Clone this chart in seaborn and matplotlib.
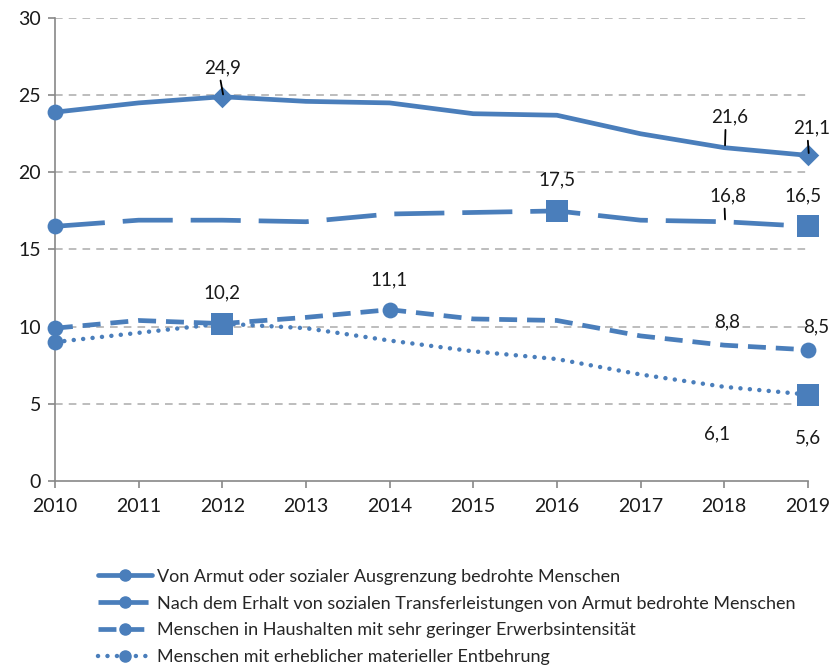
import numpy as np
import pandas as pd
import matplotlib
matplotlib.use('Agg')
import matplotlib.pyplot as plt
import seaborn as sns
from matplotlib.lines import Line2D

years = [2010, 2011, 2012, 2013, 2014, 2015, 2016, 2017, 2018, 2019]
armut_ausgrenzung = [23.9, 24.5, 24.9, 24.6, 24.5, 23.8, 23.7, 22.5, 21.6, 21.1]
nach_transfer = [16.5, 16.9, 16.9, 16.8, 17.3, 17.4, 17.5, 16.9, 16.8, 16.5]
erwerbsintensitaet = [9.9, 10.4, 10.2, 10.6, 11.1, 10.5, 10.4, 9.4, 8.8, 8.5]
entbehrung = [9.0, 9.6, 10.2, 9.9, 9.1, 8.4, 7.9, 6.9, 6.1, 5.6]

labels = [
    'Von Armut oder sozialer Ausgrenzung bedrohte Menschen',
    'Nach dem Erhalt von sozialen Transferleistungen von Armut bedrohte Menschen',
    'Menschen in Haushalten mit sehr geringer Erwerbsintensität',
    'Menschen mit erheblicher materieller Entbehrung',
]

blue = '#4a7ebb'
sns.set_style('white')
plt.rcParams['font.family'] = ['Lato', 'DejaVu Sans']

df = pd.DataFrame({'Jahr': years, 's1': armut_ausgrenzung, 's2': nach_transfer,
                   's3': erwerbsintensitaet, 's4': entbehrung})

fig = plt.figure(figsize=(8.32, 6.68), dpi=100)
ax = fig.add_axes([0.066, 0.280, 0.905, 0.693])

LW = 3.4
styles = {
    's1': dict(linestyle='-', lw=LW),
    's2': dict(linestyle=(0, (10.6, 3.8)), lw=LW),
    's3': dict(linestyle=(0, (3.8, 2.1)), lw=LW),
    's4': dict(linestyle=(0, (0.01, 2.1)), lw=LW * 0.95, solid_capstyle='round',
               dash_capstyle='round'),
}
for col, st in styles.items():
    sns.lineplot(data=df, x='Jahr', y=col, ax=ax, color=blue, **st)

# markers
def mark(col, idx, marker, size):
    sub = df.iloc[idx]
    sns.scatterplot(x=sub['Jahr'], y=sub[col], ax=ax, color=blue, marker=marker,
                    s=size, edgecolor=blue, linewidth=0, zorder=5, clip_on=False)

for col in ['s1', 's2', 's3', 's4']:
    mark(col, [0], 'o', 130)
mark('s1', [2, 9], 'D', 120)
mark('s2', [6, 9], 's', 250)
mark('s3', [4, 9], 'o', 130)
mark('s4', [2, 9], 's', 250)

# data labels: (series, index, label y, label x offset, leader)
fs = 13.5
label_spec = [
    ('s1', 2, 26.8, 0.0, True),
    ('s1', 8, 23.6, 0.07, True),
    ('s1', 9, 22.9, 0.04, True),
    ('s2', 6, 19.5, 0.0, False),
    ('s2', 8, 18.5, 0.05, True),
    ('s2', 9, 18.5, -0.06, False),
    ('s3', 2, 12.2, 0.0, False),
    ('s3', 4, 13.0, 0.0, False),
    ('s3', 8, 10.3, 0.03, False),
    ('s3', 9, 10.0, 0.1, False),
    ('s4', 8, 3.05, -0.08, False),
    ('s4', 9, 2.8, 0.0, False),
]
for col, i, ly, dx, leader in label_spec:
    v = df[col].iloc[i]
    x = years[i]
    txt = f'{v:.1f}'.replace('.', ',')
    ax.text(x + dx, ly, txt, ha='center', va='center', fontsize=fs, color='#1a1a1a')
    if leader:
        ax.plot([x + dx * 0.5 - 0.02, x + 0.01], [ly - 0.85, v + 0.15],
                color='black', lw=1.3, clip_on=False, zorder=6)

ax.set_xlim(2010, 2019)
ax.set_ylim(0, 30)
ax.set_xticks(years)
ax.set_yticks(range(0, 31, 5))
ax.set_xlabel('')
ax.set_ylabel('')
ax.tick_params(axis='both', labelsize=14, length=5, width=1.2, direction='out',
               bottom=True, left=True, colors='#888888', labelcolor='#1a1a1a')
ax.tick_params(axis='x', pad=7)
ax.tick_params(axis='y', pad=5)
for y in range(5, 31, 5):
    ax.axhline(y, color='#ababab', lw=1.1, ls=(0, (5, 4)), zorder=0)
for sp in ['top', 'right']:
    ax.spines[sp].set_visible(False)
for sp in ['left', 'bottom']:
    ax.spines[sp].set_color('#888888')
    ax.spines[sp].set_linewidth(1.2)

handles = []
for col in ['s1', 's2', 's3', 's4']:
    st = styles[col]
    handles.append(Line2D([0], [0], color=blue, marker='o', markersize=8, **st))
fig.legend(handles, labels, loc='upper left', bbox_to_anchor=(0.118, 0.1485), frameon=False,
           fontsize=13, handlelength=3.0, handletextpad=0.25, labelspacing=0.6,
           borderaxespad=0, borderpad=0)

fig.savefig('out.png', dpi=100)
